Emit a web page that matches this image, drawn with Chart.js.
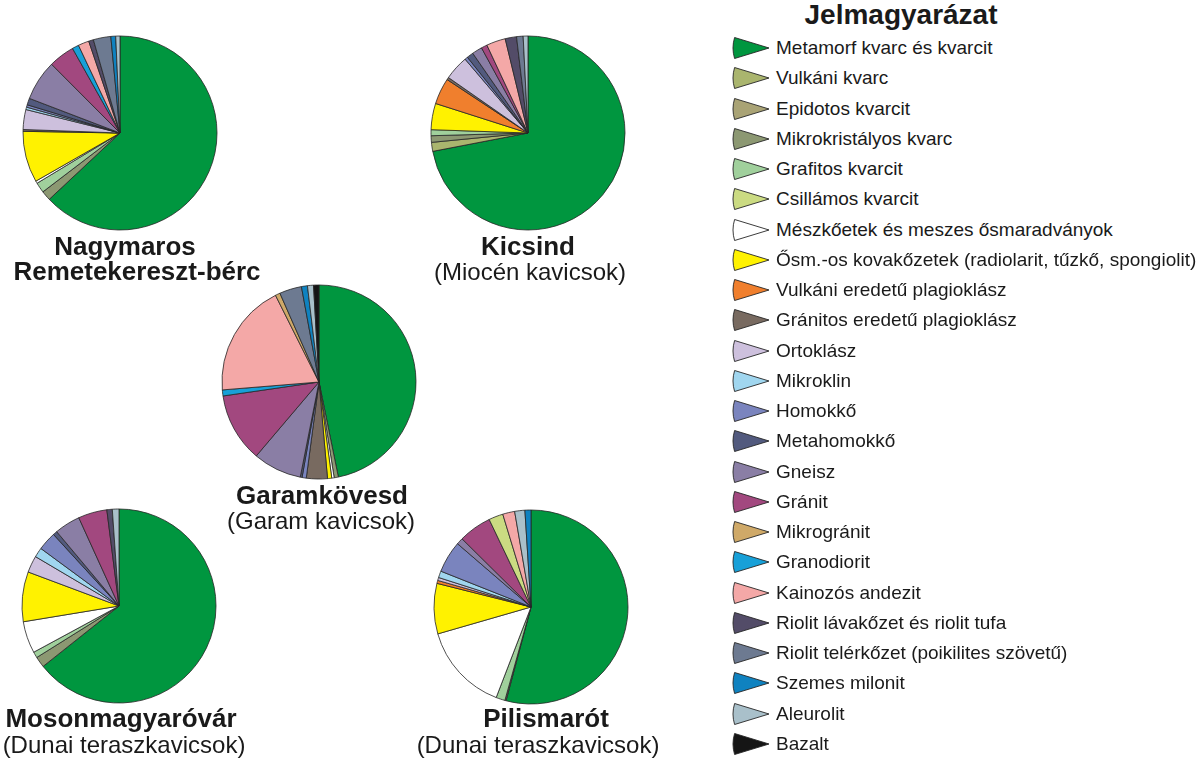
<!DOCTYPE html>
<html lang="hu">

<head>
    <meta charset="UTF-8">
    <meta name="viewport" content="width=device-width, initial-scale=1.0">
    <script src="https://cdn.jsdelivr.net/npm/chart.js"></script>
    <title>Jelmagyarázat</title>
    <style>
        body {
            margin: 0;
            background: #ffffff;
            font-family: "Liberation Sans", Arial, sans-serif;
            color: #1a1a1a;
        }

        .page {
            position: relative;
            width: 1196px;
            height: 759px;
            overflow: hidden;
        }

        .pie {
            position: absolute;
            width: 200px;
            height: 200px;
        }

        .label {
            position: absolute;
            white-space: nowrap;
            transform: translate(-50%, -50%);
            line-height: 1;
        }

        .label.bold {
            font-weight: bold;
            font-size: 26px;
        }

        .label.normal {
            font-size: 24px;
        }

        .legend-title {
            position: absolute;
            left: 901px;
            top: 15px;
            transform: translate(-50%, -50%);
            font-weight: bold;
            font-size: 28px;
            line-height: 1;
        }

        .legend-row {
            position: absolute;
            left: 731px;
            height: 30px;
            display: flex;
            align-items: center;
            white-space: nowrap;
            font-size: 19px;
        }

        .legend-row svg {
            width: 40px;
            height: 24px;
            margin-right: 5px;
        }
    </style>
</head>

<body>
    <div class="page" id="page">
        <div class="legend-title">Jelmagyarázat</div>
    </div>

    <script>
        // kategóriák (jelmagyarázat sorrendje)
        var categories = [
            'Metamorf kvarc és kvarcit',
            'Vulkáni kvarc',
            'Epidotos kvarcit',
            'Mikrokristályos kvarc',
            'Grafitos kvarcit',
            'Csillámos kvarcit',
            'Mészkőetek és meszes ősmaradványok',
            'Ősm.-os kovakőzetek (radiolarit, tűzkő, spongiolit)',
            'Vulkáni eredetű plagioklász',
            'Gránitos eredetű plagioklász',
            'Ortoklász',
            'Mikroklin',
            'Homokkő',
            'Metahomokkő',
            'Gneisz',
            'Gránit',
            'Mikrogránit',
            'Granodiorit',
            'Kainozós andezit',
            'Riolit lávakőzet és riolit tufa',
            'Riolit telérkőzet (poikilites szövetű)',
            'Szemes milonit',
            'Aleurolit',
            'Bazalt'
        ];

        var colors = [
            '#00963f', '#aab56e', '#a9a375', '#8c9872', '#a0d09c', '#cbdb82',
            '#ffffff', '#fff200', '#f07f2d', '#786a60', '#cdc0dd', '#a0d6ef',
            '#7a84be', '#525a7e', '#8a7ea5', '#a2487f', '#cfa968', '#17a0d8',
            '#f4a8a7', '#534c68', '#6d7a91', '#0f82c0', '#a9c0ca', '#151515'
        ];

        // százalékos összetétel lelőhelyenként (jelmagyarázat sorrendjében)
        var nagymaros = [62.7, 0, 0, 1.6, 1.7, 0, 0.4, 8.5, 0, 0.3, 3.3, 0.4, 0.4, 1.1, 6.7, 4.3, 0, 1.1, 1.8, 0.8, 2.9, 0.8, 0.7, 0];
        var kicsind = [72.4, 1.5, 0, 1.1, 1.0, 0, 0, 4.4, 4.4, 0.4, 4.1, 0, 0.5, 1.1, 1.7, 1.0, 0, 0, 3.2, 1.9, 1.1, 0, 0.8, 0];
        var garamkovesd = [46.8, 0, 0, 0.7, 0, 0, 0.4, 0.7, 0, 3.5, 0, 0, 0.7, 0.3, 8.1, 11.5, 0.8, 1.0, 18.9, 0, 3.7, 1.0, 1.0, 0.9];
        var mosonmagyarovar = [64.3, 0, 0, 1.8, 1.0, 0, 5.3, 8.3, 0, 0, 2.8, 1.6, 3.1, 0.7, 4.3, 4.8, 0, 0, 0, 0.9, 0, 0, 1.1, 0];
        var pilismarot = [54.2, 0, 0, 0, 1.5, 2.4, 14.7, 8.4, 0.5, 0.2, 0.5, 1.1, 5.3, 0, 1.1, 5.5, 0, 0, 2.0, 0, 0, 1.0, 1.7, 0];

        // körcikkek rajzolási sorrendje, ahol eltér a jelmagyarázattól
        var legendOrder = categories.map(function (c, i) { return i; });
        var garamOrder = [0, 1, 2, 3, 4, 5, 6, 7, 8, 9, 10, 11, 12, 13, 14, 15, 17, 18, 16, 19, 20, 21, 22, 23];
        var pilisOrder = [0, 9, 1, 2, 3, 4, 6, 7, 8, 10, 11, 12, 13, 14, 15, 5, 16, 17, 18, 19, 20, 22, 21, 23];

        var page = document.getElementById('page');

        // kördiagram létrehozása (a nulla értékű kategóriák kimaradnak)
        function createPie(values, order, cx, cy) {
            var labels = [], data = [], bg = [];
            order.forEach(function (i) {
                if (values[i] > 0) {
                    labels.push(categories[i]);
                    data.push(values[i]);
                    bg.push(colors[i]);
                }
            });

            var box = document.createElement('div');
            box.className = 'pie';
            box.style.left = (cx - 100) + 'px';
            box.style.top = (cy - 100) + 'px';
            var canvas = document.createElement('canvas');
            canvas.width = 200;
            canvas.height = 200;
            box.appendChild(canvas);
            page.appendChild(box);

            new Chart(canvas.getContext('2d'), {
                type: 'pie',
                data: {
                    labels: labels,
                    datasets: [{
                        data: data,
                        backgroundColor: bg,
                        borderColor: '#262626',
                        borderWidth: 0.8,
                        hoverOffset: 0
                    }]
                },
                options: {
                    responsive: false,
                    animation: false,
                    events: [],
                    radius: 97,
                    layout: { padding: 0 },
                    plugins: {
                        legend: { display: false },
                        tooltip: { enabled: false }
                    }
                }
            });
        }

        function addLabel(text, x, y, cls) {
            var el = document.createElement('div');
            el.className = 'label ' + cls;
            el.textContent = text;
            el.style.left = x + 'px';
            el.style.top = y + 'px';
            page.appendChild(el);
        }

        createPie(nagymaros, legendOrder, 120, 133);
        createPie(kicsind, legendOrder, 528, 133);
        createPie(garamkovesd, garamOrder, 319, 382);
        createPie(mosonmagyarovar, legendOrder, 119, 606);
        createPie(pilismarot, pilisOrder, 531, 607);

        addLabel('Nagymaros', 125, 246, 'bold');
        addLabel('Remetekereszt-bérc', 137, 271, 'bold');
        addLabel('Kicsind', 528, 246, 'bold');
        addLabel('(Miocén kavicsok)', 530, 272, 'normal');
        addLabel('Garamkövesd', 322, 495, 'bold');
        addLabel('(Garam kavicsok)', 321, 521, 'normal');
        addLabel('Mosonmagyaróvár', 121, 718, 'bold');
        addLabel('(Dunai teraszkavicsok)', 124, 745, 'normal');
        addLabel('Pilismarót', 546, 718, 'bold');
        addLabel('(Dunai teraszkavicsok)', 538, 745, 'normal');

        // jelmagyarázat: körcikk alakú jelek
        categories.forEach(function (name, i) {
            var row = document.createElement('div');
            row.className = 'legend-row';
            row.style.top = (48 + i * 30.26 - 15) + 'px';
            row.innerHTML =
                '<svg viewBox="-1 -1 40 24">' +
                '<path d="M37,11 L2.6,0.5 A36,36 0 0,0 2.6,21.5 Z" fill="' + colors[i] +
                '" stroke="#262626" stroke-width="0.9"/></svg>' +
                '<span></span>';
            row.querySelector('span').textContent = name;
            page.appendChild(row);
        });
    </script>
</body>

</html>
